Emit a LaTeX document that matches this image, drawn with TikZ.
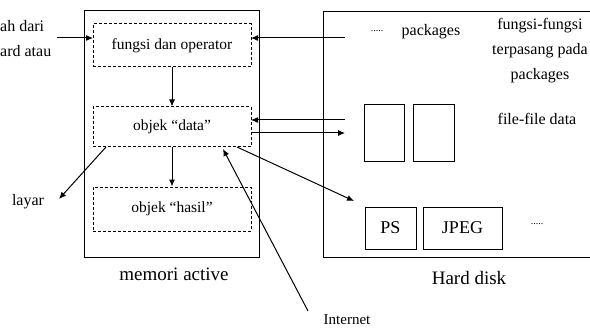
\documentclass[tikz,border=0pt]{standalone}
\usepackage{fontspec}
\setmainfont{Liberation Serif}
\usetikzlibrary{arrows.meta}
\begin{document}
\begin{tikzpicture}[x=1pt,y=-1pt,
  txt/.style={inner sep=0pt,font=\fontsize{16}{25}\selectfont},
  solidbox/.style={draw,line width=1pt,inner sep=0pt},
  dbox/.style={draw,line width=1pt,dash pattern=on 3pt off 2pt,inner sep=0pt,minimum width=158pt,font=\fontsize{15.5}{18}\selectfont},
  fbox/.style={draw,line width=1pt,inner sep=0pt,font=\fontsize{18}{20}\selectfont},
  lbl/.style={inner sep=0pt,font=\fontsize{19}{21}\selectfont},
  arr/.style={line width=1pt,-{Latex[length=7pt,width=6pt]}}]
\useasboundingbox (0,0) rectangle (590,329);
\clip (0,0) rectangle (590,329);
% main boxes
\node[solidbox,minimum width=175pt,minimum height=246pt] (mem) at (171.5,134) {};
\node[solidbox,minimum width=300pt,minimum height=245pt] (hd) at (473,134.5) {};
% dashed boxes
\node[dbox,minimum height=43pt] (fo) at (172,45.5) {fungsi dan operator};
\node[dbox,minimum height=40pt] (od) at (172,127) {objek “data”};
\node[dbox,minimum height=44pt] (oh) at (172,209) {objek “hasil”};
% hard disk contents
\node[solidbox,minimum width=40pt,minimum height=57pt] (f1) at (384,133.5) {};
\node[solidbox,minimum width=41pt,minimum height=57pt] (f2) at (433.5,133.5) {};
\node[fbox,minimum width=51pt,minimum height=42pt] (ps) at (390.5,228) {PS};
\node[fbox,minimum width=79pt,minimum height=42pt] (jpeg) at (462.5,228) {JPEG};
\node[inner sep=0pt,font=\fontsize{10}{12}\selectfont] (dots2) at (537,224) {.....};
\node[inner sep=0pt,font=\fontsize{10}{12}\selectfont] (dots1) at (377,31) {.....};
\node[txt] (pk) at (431,32) {packages};
\node[txt,align=center] (ff) at (540,51) {fungsi-fungsi\\terpasang pada\\packages};
\node[txt] (fd) at (537,119) {file-file data};
% labels
\node[lbl] (lm) at (174,274) {memori active};
\node[lbl] (lh) at (469,278) {Hard disk};
\node[inner sep=0pt,font=\fontsize{15}{17}\selectfont] (inet) at (347,320) {Internet};
\node[txt,anchor=west,align=left] (kb) at (0,39) {ah dari\\ard atau};
\node[txt] (layar) at (28,202) {layar};
% connector end points
\coordinate (kbend) at (57,38);
\coordinate (fo-l) at (93,38);
\coordinate (fo-r) at (251,38);
\coordinate (pkend) at (345,38);
\coordinate (od-r1) at (251,120);
\coordinate (od-r2) at (251,133);
\coordinate (f-in) at (345,120);
\coordinate (f-out) at (345,133);
\coordinate (od-bl) at (106,147);
\coordinate (od-br) at (237,147);
\coordinate (od-bi) at (223,149);
\coordinate (layar-tip) at (59,199);
\coordinate (hd-tip) at (354,201);
\coordinate (inet-end) at (308,311);
% connectors
\draw[arr] (kbend) -- (fo-l);
\draw[arr] (pkend) -- (fo-r);
\draw[arr] (fo.south) -- (od.north);
\draw[arr] (od.south) -- (oh.north);
\draw[arr] (f-in) -- (od-r1);
\draw[arr] (od-r2) -- (f-out);
\draw[arr] (od-bl) -- (layar-tip);
\draw[arr] (od-br) -- (hd-tip);
\draw[arr] (inet-end) -- (od-bi);
\end{tikzpicture}
\end{document}
